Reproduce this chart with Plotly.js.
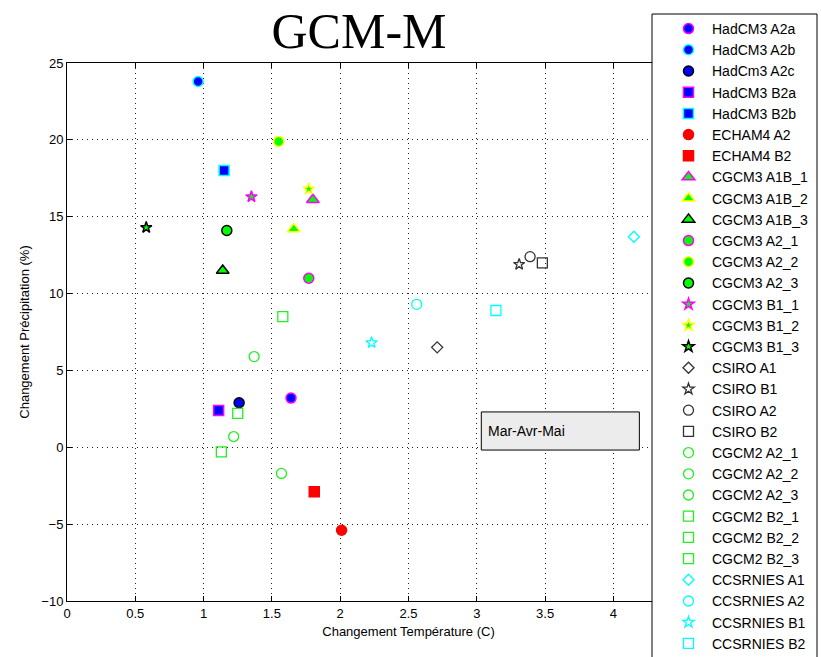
<!DOCTYPE html>
<html>
<head>
<meta charset="utf-8">
<script src="https://cdn.plot.ly/plotly-3.0.1.min.js"></script>
<style>html,body{margin:0;padding:0;background:#fff;}#chart{width:821px;height:657px;}</style>
</head>
<body>
<div id="chart"></div>
<script>
// Data
const names = ["HadCM3 A2a","HadCM3 A2b","HadCm3 A2c","HadCM3 B2a","HadCM3 B2b","ECHAM4 A2","ECHAM4 B2",
  "CGCM3 A1B_1","CGCM3 A1B_2","CGCM3 A1B_3","CGCM3 A2_1","CGCM3 A2_2","CGCM3 A2_3","CGCM3 B1_1","CGCM3 B1_2","CGCM3 B1_3",
  "CSIRO A1","CSIRO B1","CSIRO A2","CSIRO B2","CGCM2 A2_1","CGCM2 A2_2","CGCM2 A2_3","CGCM2 B2_1","CGCM2 B2_2","CGCM2 B2_3",
  "CCSRNIES A1","CCSRNIES A2","CCSRNIES B1","CCSRNIES B2"];
const temperature = [1.64,0.96,1.26,1.11,1.15,2.01,1.81,
  1.80,1.66,1.14,1.77,1.55,1.17,1.35,1.77,0.58,
  2.71,3.31,3.39,3.48,1.37,1.22,1.57,1.58,1.25,1.13,
  4.15,2.56,2.23,3.14];
const precipitation = [3.2,23.8,2.9,2.4,18.0,-5.4,-2.9,
  16.1,14.2,11.5,11.0,19.9,14.1,16.3,16.8,14.3,
  6.5,11.9,12.4,12.0,5.9,0.7,-1.7,8.5,2.2,-0.3,
  13.7,9.3,6.8,8.9];
const seasonLabel = "Mar-Avr-Mai";
const xTicks = [0,0.5,1,1.5,2,2.5,3,3.5,4];
const yTicks = [-10,-5,0,5,10,15,20,25];

// Styles
const symbols = ["circle","circle","circle","square","square","circle","square",
  "triangle-up","triangle-up","triangle-up","circle","circle","circle","star","star","star",
  "diamond-open","star-open","circle-open","square-open","circle-open","circle-open","circle-open","square-open","square-open","square-open",
  "diamond-open","circle-open","star-open","square-open"];
const fills = ["#0000ff","#0000ff","#0000ff","#0000ff","#0000ff","#ff0000","#ff0000",
  "#00ff00","#00ff00","#00ff00","#00ff00","#00ff00","#00ff00","#00ff00","#00ff00","#00ff00",
  "#000","#000","#000","#000","#00ee00","#00ee00","#00ee00","#00ee00","#00ee00","#00ee00",
  "#00ffff","#00ffff","#00ffff","#00ffff"];
const edges = ["#ff00ff","#00ffff","#000000","#ff00ff","#00ffff","#ff0000","#ff0000",
  "#ff00ff","#ffff00","#000000","#ff00ff","#ffff00","#000000","#ff00ff","#ffff00","#000000",
  "#333","#333","#333","#333","#22ee22","#22ee22","#22ee22","#22ee22","#22ee22","#22ee22",
  "#00ffff","#00ffff","#00ffff","#00ffff"];

const traces = names.map((n,i)=>{
  const open = symbols[i].indexOf("open")>=0;
  let size = 10;
  if (symbols[i].startsWith("star")) size = 8.5;
  if (symbols[i].startsWith("triangle")) size = 11;
  if (symbols[i].startsWith("diamond")) size = 8.5;
  return {
    type:"scatter", mode:"markers", name:n,
    x:[temperature[i]], y:[precipitation[i]],
    marker:{symbol:symbols[i], size:size, color: open ? edges[i] : fills[i],
      line:{color:edges[i], width: open ? 1.3 : 1.5}}
  };
});

const font = "Liberation Sans, Arial, sans-serif";
const gridDash = "1px,4px";
const layout = {
  width:821, height:657,
  margin:{l:67, r:71, t:63, b:56, autoexpand:false},
  paper_bgcolor:"#fff", plot_bgcolor:"#fff",
  font:{family:font, size:13, color:"#000"},
  title:{text:"GCM-M", font:{family:"Liberation Serif, Times New Roman, serif", size:50, color:"#000"},
    xref:"container", x:359/821, xanchor:"center", yref:"container", y:1-30/657, yanchor:"middle"},
  xaxis:{range:[0,5], tickvals:xTicks, ticktext:xTicks.map(String), showgrid:true, gridcolor:"#222", griddash:gridDash, gridwidth:1,
    zeroline:false, showline:true, linecolor:"#000", linewidth:1, mirror:"ticks", ticks:"inside", ticklen:5, tickcolor:"#000",
    title:{text:"Changement Température (C)", font:{size:13}, standoff:7}, tickfont:{size:13}},
  yaxis:{range:[-10,25], tickvals:yTicks, showgrid:true, gridcolor:"#222", griddash:gridDash, gridwidth:1,
    zeroline:false, showline:true, linecolor:"#000", linewidth:1, mirror:"ticks", ticks:"inside", ticklen:5, tickcolor:"#000",
    title:{text:"Changement Précipitation (%)", font:{size:13}, standoff:8}, tickfont:{size:13}},
  showlegend:true,
  legend:{xref:"container", yref:"container", x:665/821, y:1-13/657, xanchor:"left", yanchor:"top",
    bgcolor:"rgba(0,0,0,0)", borderwidth:0, font:{size:14, family:font}, tracegroupgap:0, maxheight:700, itemwidth:37},
  shapes:[
    {type:"rect", xref:"x", yref:"y", x0:3.033, x1:4.19, y0:-0.18, y1:2.3, fillcolor:"#ececec", line:{color:"#000", width:1}, layer:"above"},
    {type:"rect", xref:"paper", yref:"paper", x0:585/683, x1:750/683, y0:-0.2, y1:587/538, fillcolor:"#fff", line:{color:"#000", width:1}, layer:"above"}
  ],
  annotations:[
    {text:seasonLabel, xref:"x", yref:"y", x:3.07, y:1.06, xanchor:"left", yanchor:"middle", showarrow:false, font:{size:14, family:font}}
  ]
};
Plotly.newPlot("chart", traces, layout, {displayModeBar:false, staticPlot:true});
</script>
</body>
</html>
